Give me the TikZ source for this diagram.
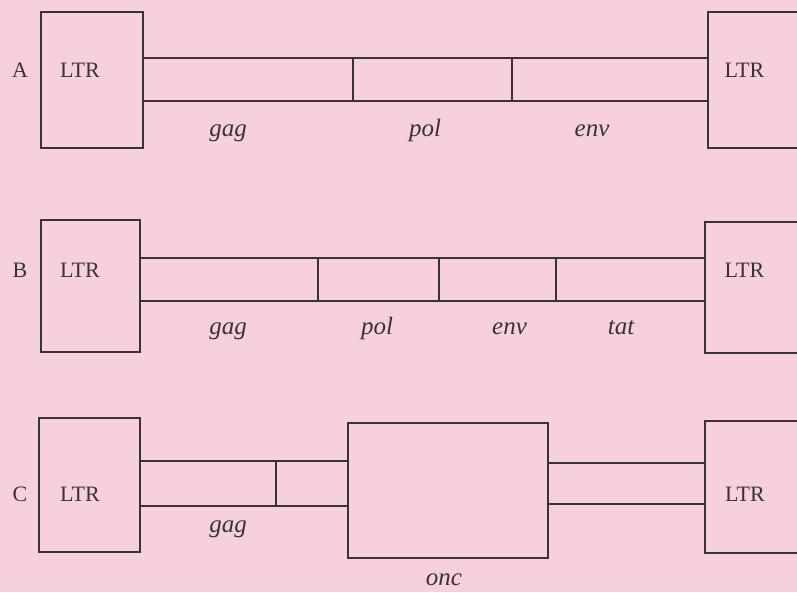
\documentclass[tikz,border=0pt]{standalone}
\usepackage{fontspec}
\setmainfont{Liberation Serif}
\definecolor{bgpink}{RGB}{246,208,220}
\definecolor{ink}{RGB}{55,52,55}
\begin{document}
\begin{tikzpicture}[x=1pt,y=-1pt,
  box/.style={draw=ink,line width=1.3pt,inner sep=0pt,outer sep=0pt},
  txt/.style={text=ink,inner sep=0pt,font=\fontsize{22}{26}\selectfont},
  gene/.style={txt,anchor=base,font=\fontsize{25}{30}\selectfont\itshape}]
\fill[bgpink] (0,0) rectangle (797,592);
\useasboundingbox (0,0) rectangle (797,592);
\clip (0,0) rectangle (797,592);
% Row A
\node[box,minimum width=102pt,minimum height=136pt] (aL) at (92,80) {};
\node[box,minimum width=210pt,minimum height=43pt] (aG) at (248,79.5) {};
\node[box,minimum width=159pt,minimum height=43pt] (aP) at (432.5,79.5) {};
\node[box,minimum width=196pt,minimum height=43pt] (aE) at (610,79.5) {};
\node[box,minimum width=122pt,minimum height=136pt] (aR) at (769,80) {};
\node[txt] (aLab) at (20,70.5) {A};
\node[txt] (aLt) at (80,70.5) {LTR};
\node[txt] (aRt) at (744.5,70.5) {LTR};
\node[gene] (agag) at (228,136) {gag};
\node[gene] (apol) at (425,136) {pol};
\node[gene] (aenv) at (592,136) {env};
% Row B
\node[box,minimum width=99pt,minimum height=132pt] (bL) at (90.5,286) {};
\node[box,minimum width=178pt,minimum height=43pt] (bG) at (229,279.5) {};
\node[box,minimum width=121pt,minimum height=43pt] (bP) at (378.5,279.5) {};
\node[box,minimum width=117pt,minimum height=43pt] (bE) at (497.5,279.5) {};
\node[box,minimum width=149pt,minimum height=43pt] (bT) at (630.5,279.5) {};
\node[box,minimum width=125pt,minimum height=131pt] (bR) at (767.5,287.5) {};
\node[txt] (bLab) at (20,270) {B};
\node[txt] (bLt) at (80,270) {LTR};
\node[txt] (bRt) at (744.5,270.5) {LTR};
\node[gene] (bgag) at (228,334) {gag};
\node[gene] (bpol) at (377,334) {pol};
\node[gene] (benv) at (509.5,334) {env};
\node[gene] (btat) at (621,334) {tat};
% Row C
\node[box,minimum width=101pt,minimum height=134pt] (cL) at (89.5,485) {};
\node[box,minimum width=136pt,minimum height=45pt] (cG) at (208,483.5) {};
\node[box,minimum width=72pt,minimum height=45pt] (cX) at (312,483.5) {};
\node[box,minimum width=200pt,minimum height=135pt] (cO) at (448,490.5) {};
\node[box,minimum width=157pt,minimum height=41pt] (cJ) at (626.5,483.5) {};
\node[box,minimum width=125pt,minimum height=132pt] (cR) at (767.5,487) {};
\node[txt] (cLab) at (20,494) {C};
\node[txt] (cLt) at (80,494) {LTR};
\node[txt] (cRt) at (745,494) {LTR};
\node[gene] (cgag) at (228,532) {gag};
\node[gene] (conc) at (444,585) {onc};
\end{tikzpicture}
\end{document}
